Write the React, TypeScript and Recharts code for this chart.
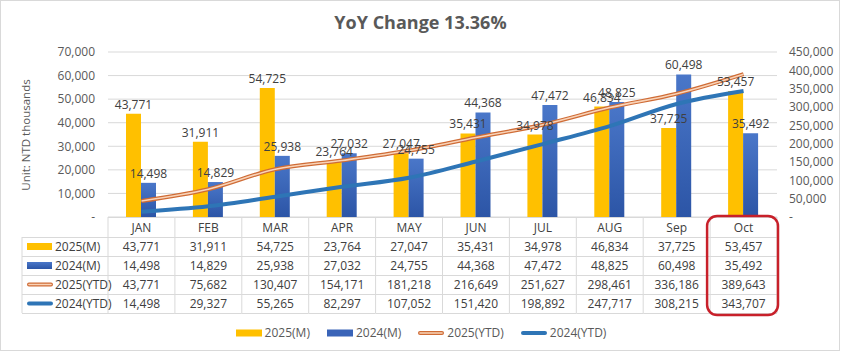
import React from "react";
import {
  Bar,
  CartesianGrid,
  ComposedChart,
  LabelList,
  Line,
  XAxis,
  YAxis,
} from "recharts";

const MONTHS = ["JAN", "FEB", "MAR", "APR", "MAY", "JUN", "JUL", "AUG", "Sep", "Oct"];
const M2025 = [43771, 31911, 54725, 23764, 27047, 35431, 34978, 46834, 37725, 53457];
const M2024 = [14498, 14829, 25938, 27032, 24755, 44368, 47472, 48825, 60498, 35492];
const YTD2025 = [43771, 75682, 130407, 154171, 181218, 216649, 251627, 298461, 336186, 389643];
const YTD2024 = [14498, 29327, 55265, 82297, 107052, 151420, 198892, 247717, 308215, 343707];
const LEFT_TICKS = [0, 10000, 20000, 30000, 40000, 50000, 60000, 70000];
const RIGHT_TICKS = [0, 50000, 100000, 150000, 200000, 250000, 300000, 350000, 400000, 450000];
const SERIES_NAMES = ["2025(M)", "2024(M)", "2025(YTD)", "2024(YTD)"];
const TITLE = "YoY Change 13.36%";
const Y_LABEL = "Unit: NTD thousands";

const W = 841;
const H = 352;
const PLOT_L = 108;
const PLOT_R = 777;
const TABLE_TOP = 217;
const HEAD_H = 20;
const ROW_H = 19;
const ROW_LABEL_L = 22;
const GRID = "#D9D9D9";
const TXT = "#404040";
const AXIS_TXT = "#595959";
const YELLOW = "#FFC000";
const BLUE_BAR = "#3A64B8";
const ORANGE_OUT = "#CF6C36";
const ORANGE_IN = "#F9D3B8";
const BLUE_LINE = "#2E75B6";
const FONT = "'Open Sans', 'Noto Sans', sans-serif";

const data = MONTHS.map((m, i) => ({
  month: m,
  m2025: M2025[i],
  m2024: M2024[i],
  ytd2025: YTD2025[i],
  ytd2024: YTD2024[i],
}));

const ROWS = [M2025, M2024, YTD2025, YTD2024];

const fmt = (v: number) => (v === 0 ? "-" : v.toLocaleString("en-US"));

function Key({ i, x, y }: { i: number; x: number; y: number }) {
  if (i === 0) return <rect x={x} y={y - 3.5} width={25} height={7} fill={YELLOW} />;
  if (i === 1) return <rect x={x} y={y - 3.5} width={25} height={7} fill="url(#blueBar)" />;
  if (i === 2)
    return (
      <g>
        <line x1={x + 2} x2={x + 24} y1={y} y2={y} stroke={ORANGE_OUT} strokeWidth={4} strokeLinecap="round" />
        <line x1={x + 2} x2={x + 24} y1={y} y2={y} stroke={ORANGE_IN} strokeWidth={1.6} strokeLinecap="round" />
      </g>
    );
  return <line x1={x + 2} x2={x + 24} y1={y} y2={y} stroke={BLUE_LINE} strokeWidth={4} strokeLinecap="round" />;
}

// the x-axis ticks draw the data table underneath the plot, one column per category
function TableTick(props: any) {
  const { x, payload } = props;
  const idx = MONTHS.indexOf(payload.value);
  const bw = (PLOT_R - PLOT_L) / MONTHS.length;
  const l = x - bw / 2;
  const r = x + bw / 2;
  const bottom = TABLE_TOP + HEAD_H + ROW_H * ROWS.length;
  const rowYs = ROWS.map((_, k) => TABLE_TOP + HEAD_H + ROW_H * k);
  return (
    <g fontFamily={FONT} fontSize={12} fill={TXT}>
      <line x1={l} x2={r} y1={TABLE_TOP + 0.5} y2={TABLE_TOP + 0.5} stroke={GRID} />
      {rowYs.map((ry) => (
        <line key={ry} x1={l} x2={r} y1={ry + 0.5} y2={ry + 0.5} stroke={GRID} />
      ))}
      <line x1={l} x2={r} y1={bottom + 0.5} y2={bottom + 0.5} stroke={GRID} />
      <line x1={r} x2={r} y1={TABLE_TOP} y2={bottom} stroke={GRID} />
      {idx === 0 && (
        <g>
          <line x1={l} x2={l} y1={TABLE_TOP} y2={bottom} stroke={GRID} />
          <line x1={ROW_LABEL_L} x2={ROW_LABEL_L} y1={rowYs[0]} y2={bottom} stroke={GRID} />
          {rowYs.map((ry) => (
            <line key={ry} x1={ROW_LABEL_L} x2={l} y1={ry + 0.5} y2={ry + 0.5} stroke={GRID} />
          ))}
          <line x1={ROW_LABEL_L} x2={l} y1={bottom + 0.5} y2={bottom + 0.5} stroke={GRID} />
          {SERIES_NAMES.map((n, k) => (
            <g key={n}>
              <Key i={k} x={ROW_LABEL_L + 5} y={rowYs[k] + ROW_H / 2} />
              <text x={ROW_LABEL_L + 33} y={rowYs[k] + ROW_H / 2} dominantBaseline="central">
                {n}
              </text>
            </g>
          ))}
        </g>
      )}
      <text x={x} y={TABLE_TOP + HEAD_H / 2} textAnchor="middle" dominantBaseline="central">
        {payload.value}
      </text>
      {ROWS.map((vals, k) => (
        <text key={k} x={x} y={rowYs[k] + ROW_H / 2} textAnchor="middle" dominantBaseline="central">
          {fmt(vals[idx])}
        </text>
      ))}
      {idx === MONTHS.length - 1 && (
        <rect
          x={l - 3}
          y={TABLE_TOP - 1}
          width={bw + 4}
          height={bottom - TABLE_TOP + 3}
          rx={10}
          fill="none"
          stroke="#C8202A"
          strokeWidth={2.5}
        />
      )}
    </g>
  );
}

function LegendSwatch({ i }: { i: number }) {
  return (
    <svg width={28} height={10} style={{ display: "block" }}>
      {i < 2 ? (
        <rect x={1} y={1.5} width={26} height={7} fill={i === 0 ? YELLOW : BLUE_BAR} />
      ) : (
        <Key i={i} x={1} y={5} />
      )}
    </svg>
  );
}

export default function App() {
  return (
    <div
      style={{
        position: "absolute",
        left: 0,
        top: 0,
        width: W - 1,
        height: H - 1,
        border: `1px solid ${GRID}`,
        boxSizing: "border-box",
        background: "#fff",
        fontFamily: FONT,
      }}
    >
      <div
        style={{
          position: "absolute",
          left: -1,
          top: 9,
          width: W,
          textAlign: "center",
          fontSize: 18,
          fontWeight: 700,
          color: AXIS_TXT,
        }}
      >
        {TITLE}
      </div>
      <div
        style={{
          position: "absolute",
          left: 24,
          top: 134,
          transform: "translate(-50%, -50%) rotate(-90deg)",
          whiteSpace: "nowrap",
          fontSize: 11.5,
          color: AXIS_TXT,
        }}
      >
        {Y_LABEL}
      </div>
      <div style={{ position: "absolute", left: -1, top: -1 }}>
        <ComposedChart
          width={W}
          height={H}
          data={data}
          margin={{ top: 52, right: 0, left: 48, bottom: 115 }}
          barGap={0}
        >
          <defs>
            <linearGradient id="blueBar" x1="0" y1="0" x2="0" y2="1">
              <stop offset="0%" stopColor="#4A77C9" />
              <stop offset="100%" stopColor="#2C55A6" />
            </linearGradient>
          </defs>
          <CartesianGrid vertical={false} stroke={GRID} />
          <XAxis
            dataKey="month"
            height={HEAD_H}
            axisLine={false}
            tickLine={false}
            tick={<TableTick />}
            interval={0}
          />
          <YAxis
            width={60}
            domain={[0, 70000]}
            ticks={LEFT_TICKS}
            tickFormatter={fmt}
            interval={0}
            axisLine={false}
            tickLine={false}
            tickMargin={7}
            tick={{ fill: AXIS_TXT, fontSize: 12, fontFamily: FONT }}
          />
          <YAxis
            yAxisId="right"
            orientation="right"
            width={64}
            domain={[0, 450000]}
            ticks={RIGHT_TICKS}
            tickFormatter={fmt}
            interval={0}
            axisLine={false}
            tickLine={false}
            tickMargin={6}
            tick={{ fill: AXIS_TXT, fontSize: 12, fontFamily: FONT }}
          />
          <Bar dataKey="m2025" barSize={15} fill={YELLOW} isAnimationActive={false}>
            <LabelList dataKey="m2025" position="top" formatter={fmt} fill={TXT} fontSize={12} fontFamily={FONT} />
          </Bar>
          <Bar dataKey="m2024" barSize={15} fill="url(#blueBar)" isAnimationActive={false}>
            <LabelList dataKey="m2024" position="top" formatter={fmt} fill={TXT} fontSize={12} fontFamily={FONT} />
          </Bar>
          <Line
            yAxisId="right"
            type="monotone"
            dataKey="ytd2025"
            stroke={ORANGE_OUT}
            strokeWidth={4}
            dot={false}
            activeDot={false}
            isAnimationActive={false}
          />
          <Line
            yAxisId="right"
            type="monotone"
            dataKey="ytd2025"
            stroke={ORANGE_IN}
            strokeWidth={1.6}
            dot={false}
            activeDot={false}
            isAnimationActive={false}
          />
          <Line
            yAxisId="right"
            type="monotone"
            dataKey="ytd2024"
            stroke={BLUE_LINE}
            strokeWidth={4}
            dot={false}
            activeDot={false}
            isAnimationActive={false}
          />
        </ComposedChart>
      </div>
      <div
        style={{
          position: "absolute",
          left: -1,
          top: 323,
          width: W,
          display: "flex",
          justifyContent: "center",
          gap: 16,
          fontSize: 12,
          color: AXIS_TXT,
        }}
      >
        {SERIES_NAMES.map((n, i) => (
          <div key={n} style={{ display: "flex", alignItems: "center", gap: 2 }}>
            <LegendSwatch i={i} />
            <span>{n}</span>
          </div>
        ))}
      </div>
    </div>
  );
}
